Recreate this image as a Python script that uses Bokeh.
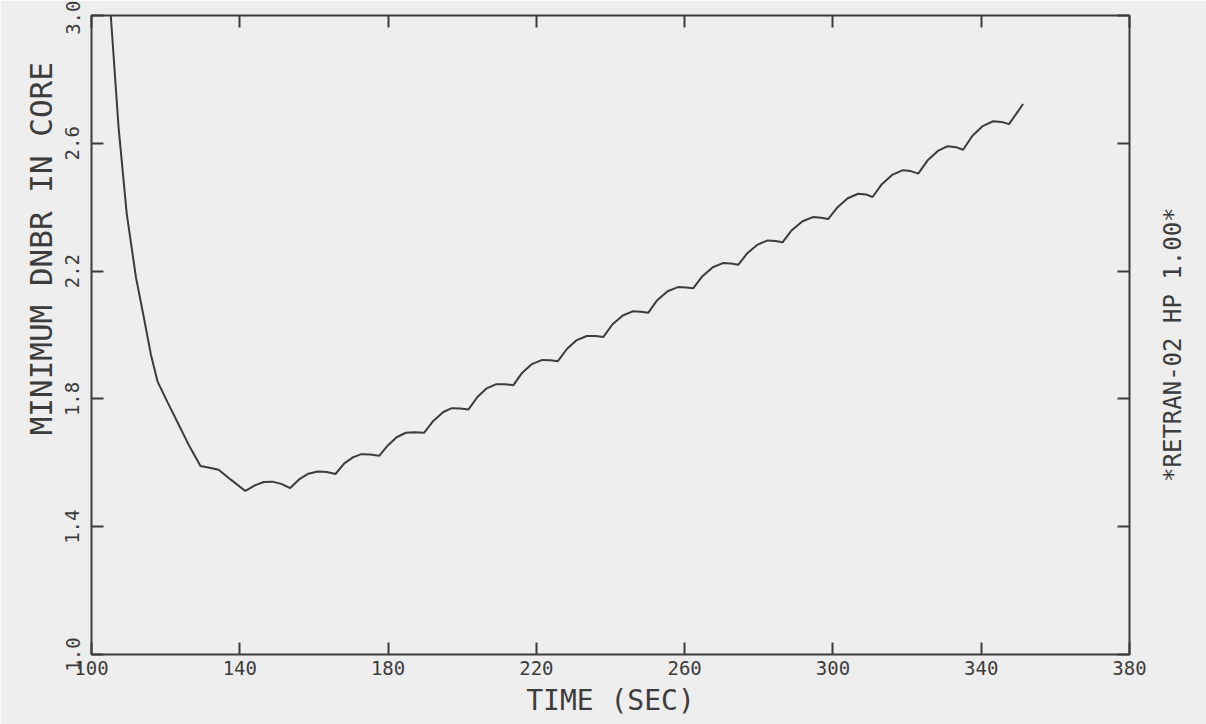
import math
from bokeh.plotting import figure
from bokeh.models import FixedTicker, LinearAxis, Range1d
from bokeh.embed import file_html
from bokeh.resources import INLINE

# ---- data ----
time_sec = [105.2, 107.3, 109.5, 112.0, 114.2, 116.0, 117.8, 120.5, 123.5, 126.5,
            129.4, 131.5, 134.3, 137.5, 141.5,
            144.2, 146.5, 148.8, 151.2, 153.6,
            156.2, 158.5, 161.0, 163.5, 165.8,
            168.2, 170.5, 172.8, 175.2, 177.6,
            180.0, 182.3, 184.8, 187.3, 189.7,
            192.2, 194.9, 197.2, 199.5, 201.7,
            204.1, 206.6, 209.2, 211.5, 213.8,
            216.2, 218.8, 221.6, 223.8, 225.8,
            228.3, 230.9, 233.6, 236.0, 238.1,
            240.5, 243.3, 246.0, 248.2, 250.2,
            252.6, 255.4, 258.2, 260.4, 262.3,
            264.8, 267.6, 270.3, 272.5, 274.5,
            276.9, 279.7, 282.4, 284.5, 286.4,
            288.9, 291.8, 294.6, 296.8, 298.7,
            301.1, 304.0, 306.8, 308.9, 310.7,
            313.2, 316.1, 318.9, 321.0, 323.0,
            325.5, 328.3, 331.0, 333.2, 335.1,
            337.6, 340.4, 343.2, 345.5, 347.5,
            351.3]
min_dnbr = [3.00, 2.65, 2.38, 2.18, 2.05, 1.94, 1.855, 1.79, 1.72, 1.65,
            1.59, 1.585, 1.578, 1.548, 1.512,
            1.530, 1.540, 1.541, 1.534, 1.521,
            1.550, 1.566, 1.573, 1.571, 1.565,
            1.598, 1.617, 1.627, 1.626, 1.622,
            1.655, 1.680, 1.694, 1.696, 1.694,
            1.731, 1.759, 1.771, 1.770, 1.767,
            1.806, 1.833, 1.846, 1.846, 1.843,
            1.882, 1.909, 1.922, 1.921, 1.918,
            1.957, 1.984, 1.997, 1.997, 1.994,
            2.033, 2.061, 2.074, 2.073, 2.070,
            2.109, 2.137, 2.150, 2.149, 2.146,
            2.184, 2.212, 2.225, 2.224, 2.220,
            2.256, 2.283, 2.296, 2.294, 2.290,
            2.328, 2.356, 2.369, 2.367, 2.363,
            2.398, 2.428, 2.442, 2.440, 2.432,
            2.472, 2.502, 2.516, 2.513, 2.505,
            2.546, 2.576, 2.591, 2.588, 2.580,
            2.623, 2.654, 2.669, 2.667, 2.660,
            2.723]

x_ticks = [100, 140, 180, 220, 260, 300, 340, 380]
x_tick_labels = ["100", "140", "180", "220", "260", "300", "340", "380"]
y_ticks = [1.0, 1.4, 1.8, 2.2, 2.6, 3.0]
y_tick_labels = ["1.0", "1.4", "1.8", "2.2", "2.6", "3.0"]

x_title = "TIME (SEC)"
y_title = "MINIMUM DNBR IN CORE"
side_note = "*RETRAN-02 HP 1.00*"

INK = "#3c3c3c"
PAPER = "#eeeeee"
FONT = "DejaVu Sans Mono"

p = figure(width=1206, height=724, output_backend="svg", toolbar_location=None,
           x_range=Range1d(100, 380), y_range=Range1d(1.0, 3.0),
           min_border_left=91, min_border_right=77, min_border_top=15,
           min_border_bottom=70, x_axis_type=None, y_axis_type=None)
p.background_fill_color = PAPER
p.border_fill_color = PAPER
p.outline_line_color = INK
p.outline_line_width = 2
p.xgrid.visible = False
p.ygrid.visible = False


def style_axis(ax, ticks, labels, show_labels, standoff, size="19px", tick_len=12):
    ax.ticker = FixedTicker(ticks=ticks)
    ax.major_label_overrides = {t: (l if show_labels else "") for t, l in zip(ticks, labels)}
    ax.axis_line_color = None
    ax.major_tick_in = tick_len
    ax.major_tick_out = 0
    ax.major_tick_line_color = INK if tick_len else None
    ax.major_tick_line_width = 2
    ax.minor_tick_line_color = None
    ax.major_label_text_font = FONT
    ax.major_label_text_font_size = size if show_labels else "1px"
    ax.major_label_text_color = INK
    ax.major_label_standoff = standoff
    ax.axis_label_text_font = FONT
    ax.axis_label_text_font_style = "normal"
    ax.axis_label_text_color = INK


xb = LinearAxis(axis_label=x_title)
style_axis(xb, x_ticks, x_tick_labels, True, 6)
xb.axis_label_text_font_size = "28px"
xb.axis_label_standoff = 6
p.add_layout(xb, "below")

xt = LinearAxis()
style_axis(xt, x_ticks, x_tick_labels, False, 0)
p.add_layout(xt, "above")

yl = LinearAxis()
style_axis(yl, y_ticks, y_tick_labels, True, 12)
yl.major_label_orientation = "vertical"
p.add_layout(yl, "left")

# y title drawn as a single vertical label, centred where the reference puts it
y_title_pos = [2.27]
yl_title = LinearAxis()
style_axis(yl_title, y_title_pos, [y_title], True, 3, size="31px", tick_len=0)
yl_title.major_label_orientation = "vertical"
p.add_layout(yl_title, "left")

yr = LinearAxis()
style_axis(yr, y_ticks, y_tick_labels, False, 0)
p.add_layout(yr, "right")

# side note starts (bottom end) at this level and reads upwards
side_note_pos = [1.54]
yr_note = LinearAxis()
style_axis(yr_note, side_note_pos, [side_note], True, 44, size="24px", tick_len=0)
yr_note.major_label_orientation = math.pi / 2
p.add_layout(yr_note, "right")

p.line(time_sec, min_dnbr, line_color=INK, line_width=2)

open("out.html", "w").write(file_html(p, INLINE))
